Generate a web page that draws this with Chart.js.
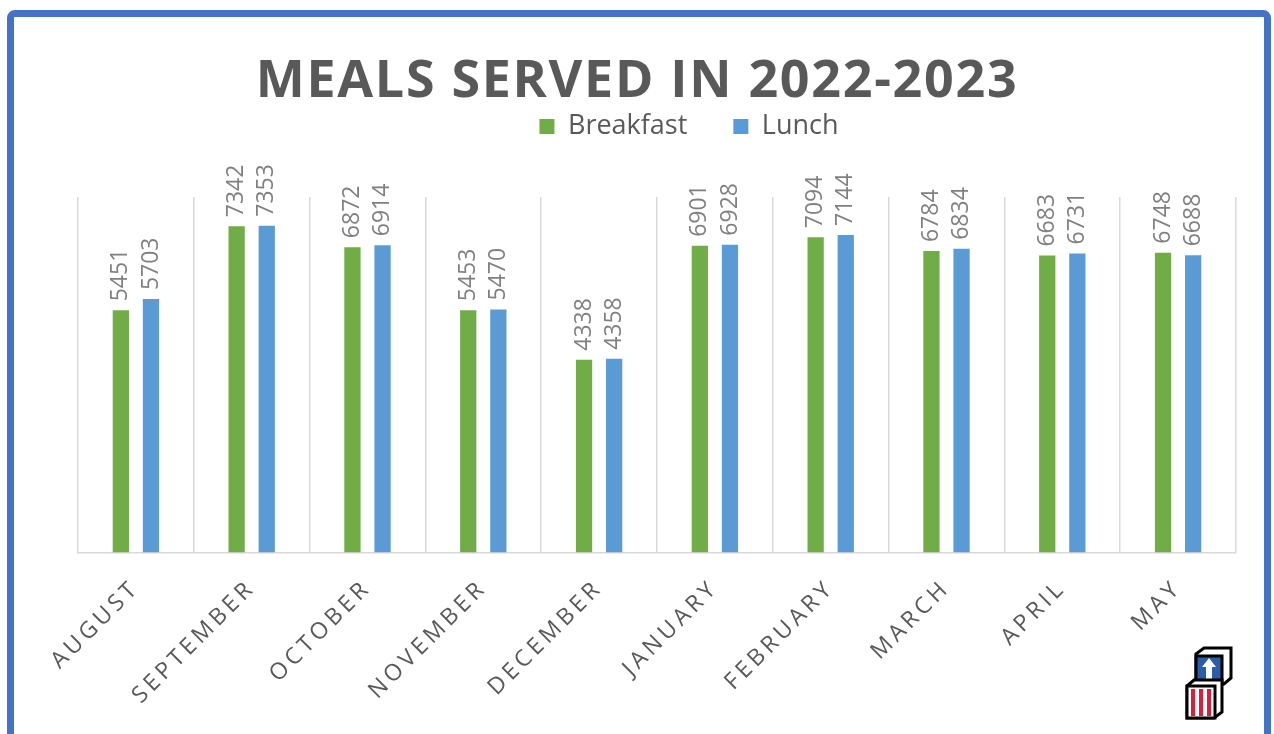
<!DOCTYPE html>
<html>
<head>
<meta charset="utf-8">
<script src="https://cdn.jsdelivr.net/npm/chart.js@4.4.0/dist/chart.umd.min.js"></script>
<style>
  html,body{margin:0;padding:0;background:#fff;width:1274px;height:734px;overflow:hidden;}
  #frame{position:absolute;left:7px;top:10px;width:1250px;height:760px;border:7px solid #4472C4;border-radius:8px;}
  #title{position:absolute;left:0;top:44px;width:1274px;text-align:center;font-family:"Open Sans",sans-serif;font-weight:700;font-size:52px;letter-spacing:1.7px;color:#595959;line-height:66px;margin:0;}
  #wrap{position:absolute;left:0;top:0;width:1274px;height:734px;}
  #logo{position:absolute;left:1184px;top:646px;}
</style>
</head>
<body>
<div id="frame"></div>
<h1 id="title">MEALS SERVED IN 2022-2023</h1>
<div id="wrap"><canvas id="c" width="1274" height="734"></canvas></div>
<svg id="logo" width="50" height="78" viewBox="0 0 50 78">
  <polygon points="12,8 20,2 47,2 47,32 40,38 12,38" fill="#fff" stroke="#000" stroke-width="3"/>
  <rect x="12" y="10" width="26" height="28" fill="#2a5ea8" stroke="#000" stroke-width="3"/>
  <polygon points="25,12 18,21 22,21 22,34 28,34 28,21 32,21" fill="#fff"/>
  <polygon points="3,40 10,34 38,34 38,66 30,72 3,72" fill="#fff" stroke="#000" stroke-width="3"/>
  <rect x="3" y="40" width="28" height="32" fill="#fff" stroke="#000" stroke-width="3"/>
  <rect x="7" y="43" width="4" height="27" fill="#e31b3b"/>
  <rect x="15" y="43" width="4" height="27" fill="#e31b3b"/>
  <rect x="23" y="43" width="4" height="27" fill="#e31b3b"/>
</svg>
<script>
const months = ["AUGUST","SEPTEMBER","OCTOBER","NOVEMBER","DECEMBER","JANUARY","FEBRUARY","MARCH","APRIL","MAY"];
const breakfast = [5451,7342,6872,5453,4338,6901,7094,6784,6683,6748];
const lunch = [5703,7353,6914,5470,4358,6928,7144,6834,6731,6688];
const seriesNames = ["Breakfast","Lunch"];
const yMax = 8000;

const spacingPlugin = {
  id:'spacing',
  beforeDraw(chart){ chart.ctx.letterSpacing = '4px'; },
  beforeDatasetsDraw(chart){ chart.ctx.letterSpacing = '0px'; }
};
const legendSpace = {
  id:'legendSpace',
  beforeLayout(chart){
    const lg = chart.legend;
    if(lg && !lg._patched){
      const f = lg.fit;
      lg.fit = function(){ const c=this.ctx; const old=c.letterSpacing; c.letterSpacing='0px'; f.call(this); c.letterSpacing=old; this.height += 47; };
      const d = lg.draw;
      lg.draw = function(a){ const c=this.ctx; const old=c.letterSpacing; c.save(); c.letterSpacing='0px'; c.translate(32,0); d.call(this,a); c.restore(); c.letterSpacing=old; };
      lg._patched = true;
    }
  }
};
const valueLabels = {
  id:'valueLabels',
  afterDatasetsDraw(chart){
    const ctx = chart.ctx;
    ctx.save();
    ctx.letterSpacing = '0px';
    ctx.font = '23px "Open Sans", sans-serif';
    ctx.fillStyle = '#808080';
    ctx.textAlign = 'left';
    ctx.textBaseline = 'middle';
    chart.data.datasets.forEach((ds,i)=>{
      chart.getDatasetMeta(i).data.forEach((el,j)=>{
        ctx.save();
        ctx.translate(el.x, el.y - 9);
        ctx.rotate(-Math.PI/2);
        ctx.fillText(String(ds.data[j]), 0, 0);
        ctx.restore();
      });
    });
    ctx.restore();
  }
};

new Chart(document.getElementById('c'), {
  type:'bar',
  data:{
    labels: months,
    datasets:[
      {label:seriesNames[0], data:breakfast, backgroundColor:'#70AD47', categoryPercentage:0.52, barPercentage:0.54},
      {label:seriesNames[1], data:lunch, backgroundColor:'#5B9BD5', categoryPercentage:0.52, barPercentage:0.54}
    ]
  },
  options:{
    responsive:false,
    animation:false,
    layout:{padding:{left:78, right:38, top:67, bottom:28}},
    plugins:{
      legend:{
        position:'top', align:'center',
        labels:{boxWidth:15, boxHeight:15, padding:46, color:'#595959', font:{family:'"Open Sans", sans-serif', size:27}}
      },
      title:{display:false},
      tooltip:{enabled:false}
    },
    scales:{
      x:{
        grid:{display:true, offset:true, color:'#d9d9d9', lineWidth:1.5, drawTicks:false},
        border:{display:true, color:'#d9d9d9', width:1.5},
        ticks:{color:'#595959', font:{family:'"Open Sans", sans-serif', size:23}, minRotation:45, maxRotation:45, padding:22, autoSkip:false}
      },
      y:{
        display:false, min:0, max:yMax
      }
    }
  },
  plugins:[spacingPlugin, legendSpace, valueLabels]
});
</script>
</body>
</html>
